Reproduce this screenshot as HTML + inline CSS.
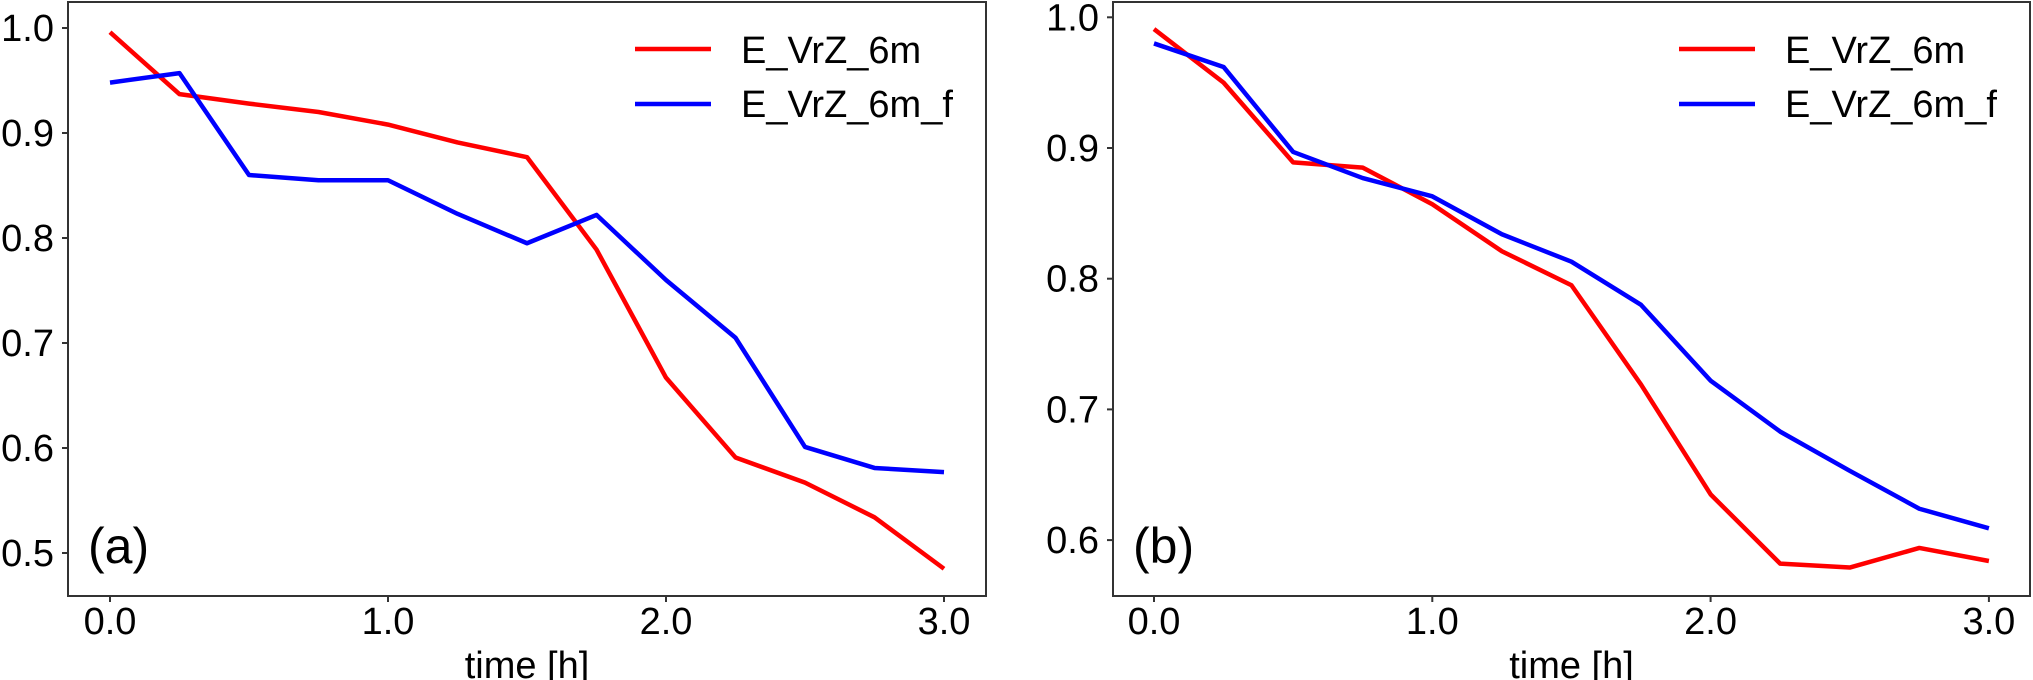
<!DOCTYPE html>
<html><head><meta charset="utf-8">
<style>html,body{margin:0;padding:0;background:#fff;}svg{display:block;font-family:"Liberation Sans",sans-serif;}</style>
</head><body>
<svg id="chart" width="2033" height="680" viewBox="0 0 2033 680" xmlns="http://www.w3.org/2000/svg"></svg>
<script>
const times = [0,0.25,0.5,0.75,1,1.25,1.5,1.75,2,2.25,2.5,2.75,3];
const aRed = [0.996,0.937,0.928,0.920,0.908,0.891,0.877,0.789,0.667,0.591,0.567,0.534,0.485];
const aBlue = [0.948,0.957,0.860,0.855,0.855,0.823,0.795,0.822,0.760,0.705,0.601,0.581,0.577];
const bRed = [0.991,0.950,0.889,0.885,0.857,0.821,0.795,0.719,0.635,0.582,0.579,0.594,0.584];
const bBlue = [0.980,0.962,0.897,0.877,0.863,0.834,0.813,0.780,0.722,0.683,0.653,0.624,0.609];
const xTicks = [0,1,2,3];
const xTickLabels = ["0.0","1.0","2.0","3.0"];
const aYTicks = [0.5,0.6,0.7,0.8,0.9,1.0];
const bYTicks = [0.6,0.7,0.8,0.9,1.0];
const seriesNames = ["E_VrZ_6m","E_VrZ_6m_f"];

const NS="http://www.w3.org/2000/svg";
const svg=document.getElementById('chart');
function mk(tag,attrs,parent){const e=document.createElementNS(NS,tag);for(const k in attrs)e.setAttribute(k,attrs[k]);(parent||svg).appendChild(e);return e;}

function panel(cfg){
  const g=mk('g',{});
  
  
  const sx=t=>cfg.x0+t*cfg.xs;
  const sy=v=>cfg.y1+(1-v)*cfg.ys;
  [[cfg.red,'#ff0000','red-line'],[cfg.blue,'#0000ff','blue-line']].forEach(([arr,col,nm])=>{
    const p=mk('polyline',{points:arr.map((v,i)=>sx(times[i])+','+sy(v)).join(' '),fill:'none',stroke:col,'stroke-width':4.5,'stroke-linejoin':'round'},g);
    
    
  });
  const fr=mk('rect',{x:cfg.L,y:cfg.T,width:cfg.R-cfg.L,height:cfg.B-cfg.T,fill:'none',stroke:'#333','stroke-width':2},g);
  
  
  xTicks.forEach((t,i)=>{
    mk('line',{x1:sx(t),x2:sx(t),y1:cfg.B,y2:cfg.B+6,stroke:'#333','stroke-width':2},g);
    const tx=mk('text',{x:sx(t),y:634,'font-size':38,'text-anchor':'middle',fill:'#000'},g);
    tx.textContent=xTickLabels[i];
    
    
  });
  cfg.yt.forEach(v=>{
    mk('line',{x1:cfg.L-6,x2:cfg.L,y1:sy(v),y2:sy(v),stroke:'#333','stroke-width':2},g);
    const tx=mk('text',{x:cfg.L-14,y:sy(v)+13,'font-size':38,'text-anchor':'end',fill:'#000'},g);
    tx.textContent=v.toFixed(1);
    
    
  });
  const xl=mk('text',{x:(cfg.L+cfg.R)/2,y:678,'font-size':38,'text-anchor':'middle',fill:'#000'},g);
  xl.textContent='time [h]';
  
  
  const pl=mk('text',{x:cfg.L+20,y:563,'font-size':50,fill:'#000'},g);
  pl.textContent=cfg.label;
  
  
  [['#ff0000',49,63],['#0000ff',104,117]].forEach(([col,ly,ty],i)=>{
    const le=mk('g',{},g);
    
    
    mk('line',{x1:cfg.lg,x2:cfg.lg+76,y1:ly,y2:ly,stroke:col,'stroke-width':4.5},le);
    const t=mk('text',{x:cfg.lg+106,y:ty,'font-size':38,fill:'#000'},le);
    t.textContent=seriesNames[i];
  });
}
panel({name:'panel-a',L:68,R:986,T:2,B:596,x0:110,xs:278,y1:28,ys:1050,yt:aYTicks,red:aRed,blue:aBlue,label:'(a)',lg:635});
panel({name:'panel-b',L:1113,R:2030,T:2,B:596,x0:1154,xs:278.3,y1:17.3,ys:1307,yt:bYTicks,red:bRed,blue:bBlue,label:'(b)',lg:1679});
</script>
</body></html>
